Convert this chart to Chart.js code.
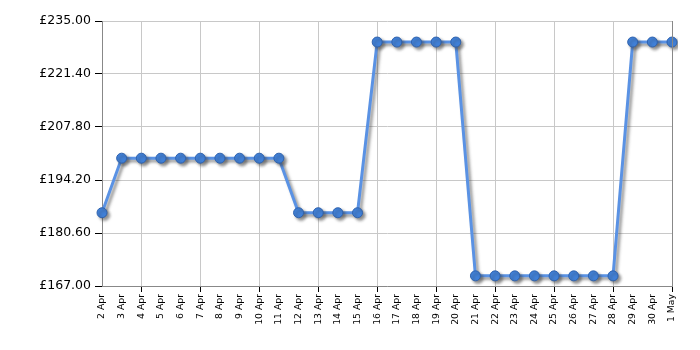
<!DOCTYPE html>
<html>
<head>
<meta charset="utf-8">
<script src="https://cdn.jsdelivr.net/npm/chart.js@4.4.1/dist/chart.umd.min.js"></script>
<style>
  html, body { margin: 0; padding: 0; background: #fff; }
  #wrap { width: 700px; height: 350px; }
</style>
</head>
<body>
<div id="wrap"><canvas id="priceChart" width="700" height="350"></canvas></div>
<script>
var dates = ['2 Apr','3 Apr','4 Apr','5 Apr','6 Apr','7 Apr','8 Apr','9 Apr','10 Apr','11 Apr',
  '12 Apr','13 Apr','14 Apr','15 Apr','16 Apr','17 Apr','18 Apr','19 Apr','20 Apr','21 Apr',
  '22 Apr','23 Apr','24 Apr','25 Apr','26 Apr','27 Apr','28 Apr','29 Apr','30 Apr','1 May'];

var prices = [185.8, 199.8, 199.8, 199.8, 199.8, 199.8, 199.8, 199.8, 199.8, 199.8,
  185.8, 185.8, 185.8, 185.8, 229.6, 229.6, 229.6, 229.6, 229.6, 169.6,
  169.6, 169.6, 169.6, 169.6, 169.6, 169.6, 169.6, 229.6, 229.6, 229.6];

var yMin = 167, yMax = 235, yStep = 13.6;

// grey drop shadow under the line and markers
var shadowPlugin = {
  id: 'shadow',
  beforeDatasetDraw: function(chart) {
    var ctx = chart.ctx;
    ctx.save();
    ctx.shadowColor = 'rgba(60,60,60,0.55)';
    ctx.shadowBlur = 3;
    ctx.shadowOffsetX = 2.5;
    ctx.shadowOffsetY = 2.5;
  },
  afterDatasetDraw: function(chart) {
    chart.ctx.restore();
  }
};

var ctx = document.getElementById('priceChart').getContext('2d');
new Chart(ctx, {
  type: 'line',
  data: {
    labels: dates,
    datasets: [{
      data: prices,
      borderColor: '#5a92e4',
      borderWidth: 3,
      pointRadius: 5,
      pointBackgroundColor: '#4080d8',
      pointBorderColor: '#2f62ad',
      pointBorderWidth: 1,
      tension: 0,
      fill: false
    }]
  },
  options: {
    responsive: false,
    animation: false,
    layout: { padding: { top: 21, right: 28, left: 0, bottom: 0 } },
    plugins: {
      legend: { display: false },
      tooltip: { enabled: false }
    },
    scales: {
      x: {
        offset: false,
        grid: {
          color: function(c) { return c.index % 3 === 2 ? '#c8c8c8' : 'rgba(0,0,0,0)'; },
          tickColor: function(c) { return c.index % 3 === 2 ? '#000' : 'rgba(0,0,0,0)'; },
          tickLength: 6,
          lineWidth: 1
        },
        border: { color: '#888', width: 1 },
        ticks: {
          autoSkip: false,
          minRotation: 90,
          maxRotation: 90,
          padding: 2,
          color: '#000',
          font: { family: 'DejaVu Sans, Verdana, sans-serif', size: 9.3 }
        },
        afterFit: function(scale) { scale.height = 64; }
      },
      y: {
        min: yMin,
        max: yMax,
        grid: {
          color: '#c8c8c8',
          tickColor: '#000',
          tickLength: 7
        },
        border: { color: '#888', width: 1 },
        ticks: {
          stepSize: yStep,
          padding: 4,
          color: '#000',
          font: { family: 'DejaVu Sans, Verdana, sans-serif', size: 12.5 },
          callback: function(v) { return '£' + v.toFixed(2); }
        },
        afterFit: function(scale) { scale.width = 102; }
      }
    }
  },
  plugins: [shadowPlugin, {
    id: 'rightEdge',
    afterDraw: function(chart) {
      var a = chart.chartArea, c = chart.ctx;
      c.save();
      c.strokeStyle = '#888';
      c.lineWidth = 1;
      c.beginPath();
      c.moveTo(Math.round(a.right) + 0.5, a.top);
      c.lineTo(Math.round(a.right) + 0.5, a.bottom);
      c.stroke();
      c.restore();
    }
  }]
});
</script>
</body>
</html>
